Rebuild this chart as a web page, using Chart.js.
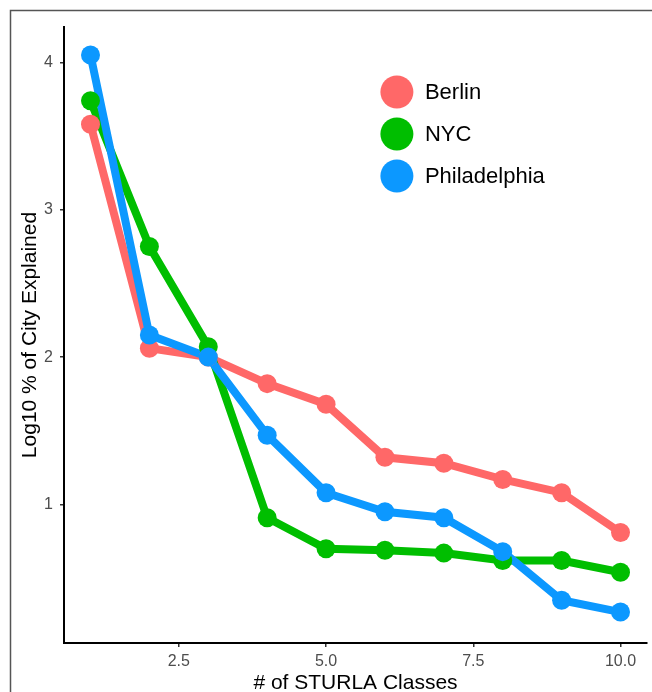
<!DOCTYPE html>
<html>
<head>
<meta charset="utf-8">
<script src="https://cdn.jsdelivr.net/npm/chart.js@4.4.0/dist/chart.umd.min.js"></script>
<style>
  html, body { margin: 0; padding: 0; background: #fff; }
  #wrap { width: 652px; height: 692px; position: relative; }
</style>
</head>
<body>
<div id="wrap"><canvas id="chart"></canvas></div>
<script>
// data
const classes = [1, 2, 3, 4, 5, 6, 7, 8, 9, 10];
const berlin = [3.58, 2.06, 2.00, 1.82, 1.68, 1.32, 1.28, 1.17, 1.08, 0.81];
const nyc = [3.74, 2.75, 2.07, 0.91, 0.70, 0.69, 0.67, 0.62, 0.62, 0.54];
const philadelphia = [4.05, 2.15, 2.00, 1.47, 1.08, 0.95, 0.91, 0.68, 0.35, 0.27];
const xTicks = [2.5, 5, 7.5, 10];
const yTicks = [1, 2, 3, 4];
const cityNames = ['Berlin', 'NYC', 'Philadelphia'];
const cityColors = ['#FF6868', '#00BE00', '#0C98FF'];

const FONT = '"Liberation Sans", Arial, Helvetica, sans-serif';

function toPoints(ys) {
    return classes.map((x, i) => ({ x: x, y: ys[i] }));
}

const series = [berlin, nyc, philadelphia];
const datasets = [];
// lines first (drawn underneath), points on top like ggplot
series.forEach((ys, i) => {
    datasets.push({
        type: 'line',
        label: cityNames[i],
        data: toPoints(ys),
        borderColor: cityColors[i],
        borderWidth: 8,
        pointRadius: 0,
        fill: false,
        order: 5 - i
    });
});
series.forEach((ys, i) => {
    datasets.push({
        type: 'scatter',
        label: cityNames[i] + ' pts',
        data: toPoints(ys),
        backgroundColor: cityColors[i],
        borderWidth: 0,
        pointRadius: 9.5,
        order: 2 - i
    });
});

// frame around the figure + legend inside the panel
const decor = {
    id: 'decor',
    beforeDraw(chart) {
        const c = chart.ctx;
        c.save();
        c.strokeStyle = '#555';
        c.lineWidth = 1.5;
        c.beginPath();
        c.moveTo(10.5, 692);
        c.lineTo(10.5, 10.5);
        c.lineTo(652, 10.5);
        c.stroke();
        c.restore();
    },
    afterDraw(chart) {
        const c = chart.ctx;
        const a = chart.chartArea;
        c.save();
        const cx = a.left + (a.right - a.left) * 0.571;
        let cy = a.top + 65;
        c.font = '22px ' + FONT;
        c.textBaseline = 'middle';
        c.textAlign = 'left';
        cityNames.forEach((name, i) => {
            c.fillStyle = cityColors[i];
            c.beginPath();
            c.arc(cx, cy, 16.5, 0, Math.PI * 2);
            c.fill();
            c.fillStyle = '#000';
            c.fillText(name, cx + 28, cy + 1);
            cy += 42;
        });
        c.restore();
    }
};

new Chart(document.getElementById('chart'), {
    type: 'line',
    data: { datasets: datasets },
    options: {
        responsive: true,
        maintainAspectRatio: false,
        animation: false,
        layout: { autoPadding: false, padding: { top: 27, right: 5, left: 0, bottom: 0 } },
        plugins: {
            legend: { display: false },
            tooltip: { enabled: false }
        },
        scales: {
            x: {
                type: 'linear',
                min: 0.55,
                max: 10.45,
                afterBuildTicks: s => { s.ticks = xTicks.map(v => ({ value: v })); },
                afterFit: s => { s.height = 49; s.paddingLeft = 0; s.paddingRight = 0; },
                ticks: {
                    color: '#4d4d4d',
                    font: { size: 16, family: FONT },
                    padding: 5,
                    maxRotation: 0,
                    callback: v => v.toFixed(1)
                },
                grid: { drawOnChartArea: false, drawTicks: true, tickLength: 4, color: '#333', lineWidth: 1.5 },
                border: { display: true, color: '#000', width: 2 },
                title: {
                    display: true,
                    text: '# of STURLA Classes',
                    color: '#000',
                    font: { size: 21, family: FONT, lineHeight: 0.8 },
                    padding: { top: 0, bottom: 0 }
                }
            },
            y: {
                type: 'linear',
                min: 0.06,
                max: 4.24,
                afterBuildTicks: s => { s.ticks = yTicks.map(v => ({ value: v })); },
                afterFit: s => { s.width = 64; s.paddingTop = 0; s.paddingBottom = 0; },
                ticks: {
                    color: '#4d4d4d',
                    font: { size: 16, family: FONT },
                    padding: 7,
                    callback: v => String(v)
                },
                grid: { drawOnChartArea: false, drawTicks: true, tickLength: 4, color: '#333', lineWidth: 1.5 },
                border: { display: true, color: '#000', width: 2 },
                title: {
                    display: true,
                    text: 'Log10 % of City Explained',
                    color: '#000',
                    font: { size: 21, family: FONT, lineHeight: 1.0 },
                    padding: { top: 20, bottom: 0 }
                }
            }
        }
    },
    plugins: [decor]
});
</script>
</body>
</html>
